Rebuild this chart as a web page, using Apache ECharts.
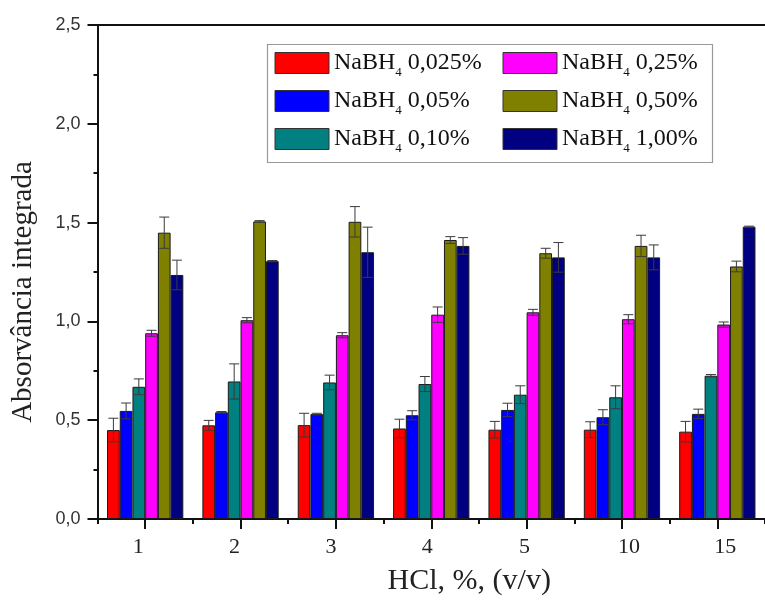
<!DOCTYPE html>
<html>
<head>
<meta charset="utf-8">
<script src="https://cdn.jsdelivr.net/npm/echarts@6/dist/echarts.min.js"></script>
<style>
  html, body { margin: 0; padding: 0; background: #ffffff; }
  #chart { width: 765px; height: 601px; }
</style>
</head>
<body>
<div id="chart"></div>
<script>
// HCl concentrations (% v/v)
const categories = ['1', '2', '3', '4', '5', '10', '15'];

// Mean integrated absorbance for each NaBH4 concentration
const nabh4_0025 = [0.450, 0.474, 0.475, 0.458, 0.452, 0.452, 0.442];
const nabh4_005  = [0.547, 0.540, 0.531, 0.525, 0.552, 0.515, 0.532];
const nabh4_010  = [0.669, 0.696, 0.691, 0.683, 0.629, 0.616, 0.725];
const nabh4_025  = [0.940, 1.006, 0.930, 1.034, 1.046, 1.011, 0.984];
const nabh4_050  = [1.449, 1.506, 1.504, 1.412, 1.345, 1.382, 1.278];
const nabh4_100  = [1.235, 1.305, 1.350, 1.382, 1.324, 1.324, 1.479];

// Standard deviations
const sd_0025 = [0.060, 0.025, 0.060, 0.047, 0.042, 0.040, 0.052];
const sd_005  = [0.040, 0.004, 0.004, 0.023, 0.034, 0.038, 0.024];
const sd_010  = [0.040, 0.089, 0.037, 0.038, 0.045, 0.058, 0.006];
const sd_025  = [0.015, 0.013, 0.013, 0.039, 0.015, 0.023, 0.013];
const sd_050  = [0.079, 0.004, 0.077, 0.017, 0.025, 0.054, 0.027];
const sd_100  = [0.075, 0.003, 0.127, 0.042, 0.075, 0.063, 0.003];

const seriesNames = ['0,025%', '0,05%', '0,10%', '0,25%', '0,50%', '1,00%'];
const seriesValues = [nabh4_0025, nabh4_005, nabh4_010, nabh4_025, nabh4_050, nabh4_100];
const seriesErrors = [sd_0025, sd_005, sd_010, sd_025, sd_050, sd_100];
const colors = ['#ff0000', '#0000ff', '#008080', '#ff00ff', '#808000', '#000080'];

const serif = "'Liberation Serif', 'Times New Roman', serif";
const sans = "'Liberation Sans', Arial, sans-serif";
const N_SERIES = seriesNames.length;
const CAT_GAP = 0.2;

const labelOf = (i) => 'NaBH4 ' + seriesNames[i];

const barSeries = seriesValues.map((vals, i) => ({
  name: labelOf(i),
  type: 'bar',
  data: vals,
  barGap: '0%',
  barCategoryGap: (CAT_GAP * 100) + '%',
  itemStyle: { color: colors[i], borderColor: '#1a1a1a', borderWidth: 1 },
  z: 2
}));

// Error bars drawn on top of each grouped bar
const errorSeries = seriesValues.map((vals, i) => ({
  type: 'custom',
  z: 5,
  silent: true,
  data: vals.map((v, k) => [k, v, seriesErrors[i][k]]),
  encode: { x: 0, y: 1 },
  renderItem: function (params, api) {
    const k = api.value(0), v = api.value(1), e = api.value(2);
    const band = api.size([1, 0])[0];
    const barW = band * (1 - CAT_GAP) / N_SERIES;
    const off = -band * (1 - CAT_GAP) / 2 + barW * (i + 0.5);
    const top = api.coord([k, v + e]);
    const bot = api.coord([k, v - e]);
    const x = top[0] + off;
    const hw = 5;
    const style = { stroke: '#3a3a3a', lineWidth: 1 };
    return {
      type: 'group',
      children: [
        { type: 'line', shape: { x1: x, y1: top[1], x2: x, y2: bot[1] }, style },
        { type: 'line', shape: { x1: x - hw, y1: top[1], x2: x + hw, y2: top[1] }, style },
        { type: 'line', shape: { x1: x - hw, y1: bot[1], x2: x + hw, y2: bot[1] }, style }
      ]
    };
  }
}));

const legendRich = {
  m: { fontFamily: serif, fontSize: 24, color: '#111', lineHeight: 33, verticalAlign: 'middle' },
  s: { fontFamily: serif, fontSize: 13, color: '#111', lineHeight: 33, verticalAlign: 'bottom' }
};
const legendFormatter = (name) => {
  const rest = name.replace('NaBH4', '');
  return '{m|NaBH}{s|4}{m|' + rest + '}';
};
const legendBase = {
  orient: 'vertical',
  top: 51,
  padding: 0,
  itemWidth: 54,
  itemHeight: 21,
  itemGap: 9.5,
  icon: 'rect',
  itemStyle: { borderColor: '#333', borderWidth: 1 },
  selectedMode: false,
  formatter: legendFormatter,
  textStyle: { rich: legendRich }
};

// Horizontal nudge of the category labels
const labelShift = [-7, -6, -5, -4, -2, 7, 8];
const tickRich = {};
labelShift.forEach((d, k) => {
  tickRich['t' + k] = {
    fontFamily: serif, fontSize: 22, color: '#222',
    padding: d >= 0 ? [0, 0, 0, 2 * d] : [0, -2 * d, 0, 0]
  };
});

const chart = echarts.init(document.getElementById('chart'), null, { renderer: 'canvas' });
chart.setOption({
  animation: false,
  backgroundColor: '#ffffff',
  grid: { left: 97.5, top: 25, width: 673, height: 498 },
  legend: [
    Object.assign({}, legendBase, { left: 274.5, data: [labelOf(0), labelOf(1), labelOf(2)] }),
    Object.assign({}, legendBase, { left: 502.5, data: [labelOf(3), labelOf(4), labelOf(5)] })
  ],
  graphic: [{
    type: 'rect',
    shape: { x: 267.5, y: 44.5, width: 445, height: 118 },
    style: { fill: 'none', stroke: '#999', lineWidth: 1.2 },
    z: 10
  }],
  xAxis: [
    {
      type: 'category',
      data: categories,
      position: 'bottom',
      name: 'HCl, %, (v/v)',
      nameLocation: 'middle',
      nameGap: 47,
      nameTextStyle: { fontFamily: serif, fontSize: 30, color: '#222', padding: [0, 0, 0, 76] },
      axisLine: { show: true, lineStyle: { color: '#111', width: 2 } },
      axisTick: { show: true, alignWithLabel: true, inside: false, length: 10, lineStyle: { color: '#111', width: 2 } },
      axisLabel: {
        fontFamily: serif, fontSize: 22, color: '#222', margin: 17,
        formatter: (value, idx) => '{t' + idx + '|' + value + '}',
        rich: tickRich
      },
      splitLine: { show: false }
    },
    {
      type: 'category',
      data: categories,
      position: 'bottom',
      axisLine: { show: false },
      axisTick: { show: true, alignWithLabel: false, length: 5, lineStyle: { color: '#111', width: 2 } },
      axisLabel: { show: false },
      splitLine: { show: false }
    },
    {
      type: 'category',
      data: categories,
      position: 'top',
      axisLine: { show: true, lineStyle: { color: '#111', width: 2 } },
      axisTick: { show: false },
      axisLabel: { show: false },
      splitLine: { show: false }
    }
  ],
  yAxis: {
    type: 'value',
    min: 0,
    max: 2.5,
    interval: 0.5,
    name: 'Absorvância integrada',
    nameLocation: 'middle',
    nameGap: 60,
    nameRotate: 90,
    nameTextStyle: { fontFamily: serif, fontSize: 29, color: '#222', padding: [0, 40, 0, 0] },
    axisLine: { show: true, lineStyle: { color: '#111', width: 2 } },
    axisTick: { show: true, inside: false, length: 10, lineStyle: { color: '#111', width: 2 } },
    minorTick: { show: true, splitNumber: 2, length: 4, lineStyle: { color: '#111', width: 2 } },
    axisLabel: {
      fontFamily: sans, fontSize: 18, color: '#333', margin: 17,
      formatter: (v) => v.toFixed(1).replace('.', ',')
    },
    splitLine: { show: false }
  },
  series: barSeries.concat(errorSeries)
});
</script>
</body>
</html>
